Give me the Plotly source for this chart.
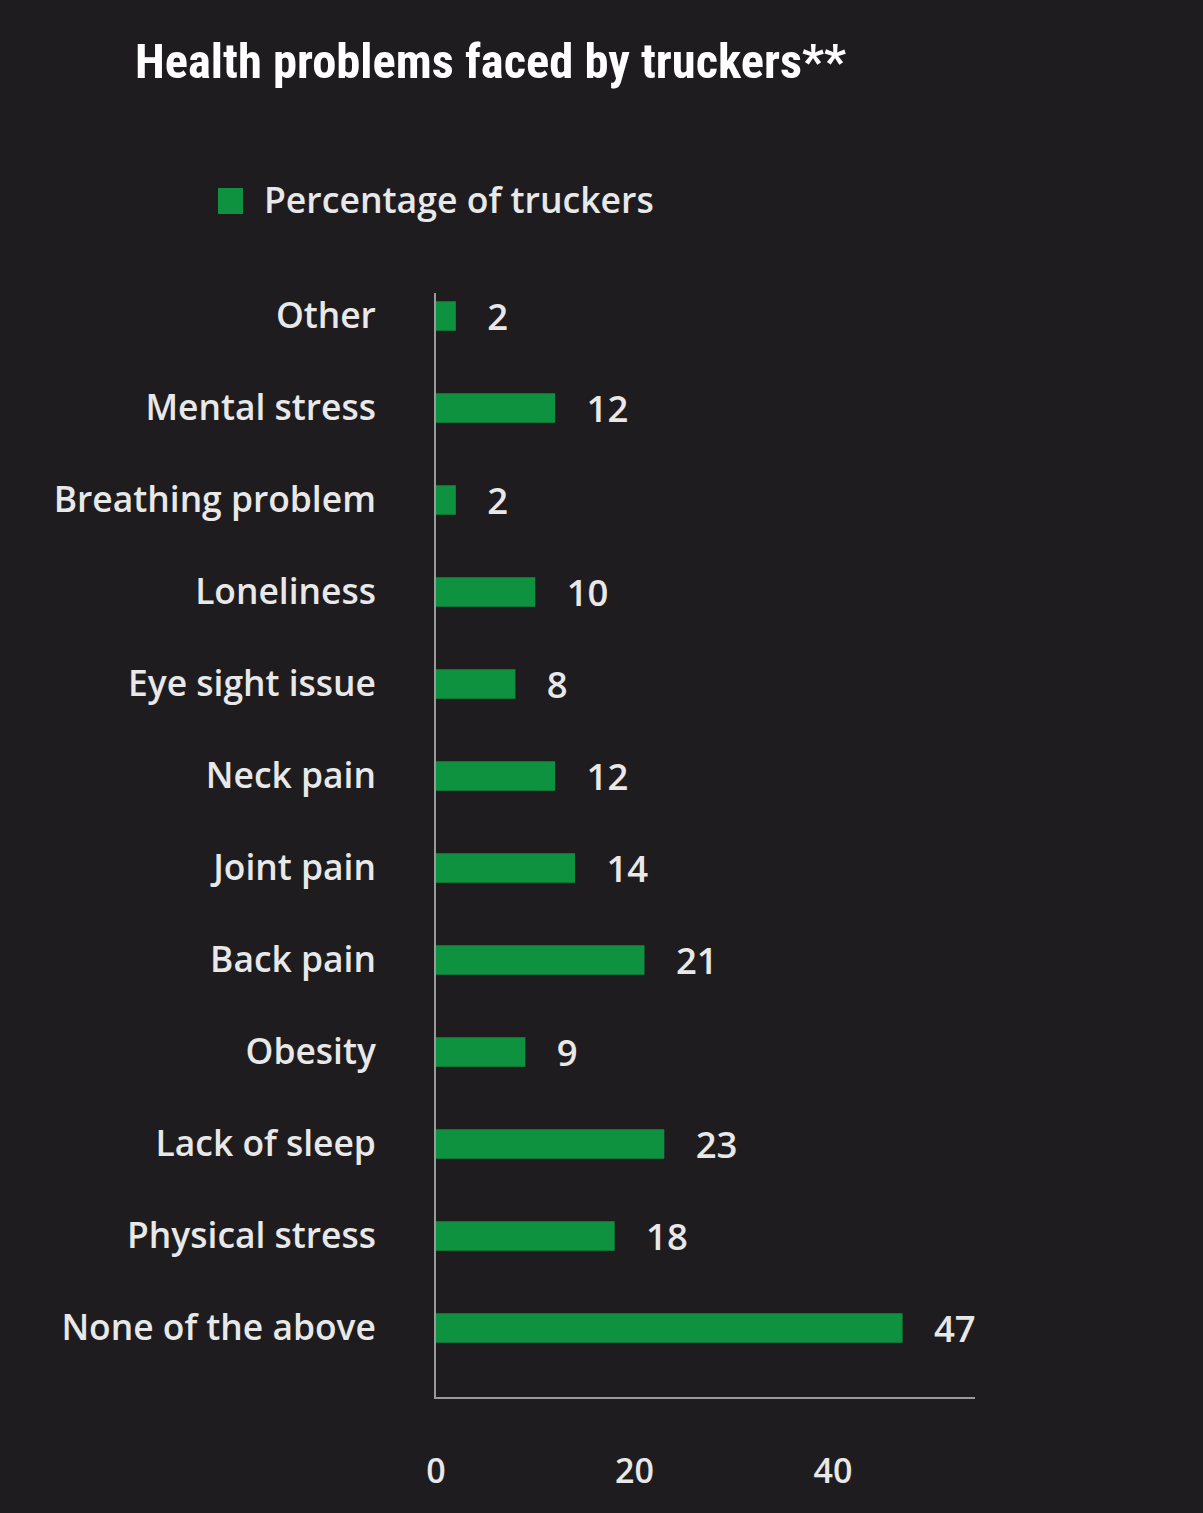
import plotly.graph_objects as go

categories = ["Other", "Mental stress", "Breathing problem", "Loneliness", "Eye sight issue",
              "Neck pain", "Joint pain", "Back pain", "Obesity", "Lack of sleep",
              "Physical stress", "None of the above"]
values = [2, 12, 2, 10, 8, 12, 14, 21, 9, 23, 18, 47]
series_name = "Percentage of truckers"
title_text = "Health problems faced by truckers**"
x_ticks = [0, 20, 40]

BG = "#1e1c1f"
GREEN = "#0e9240"
TXT = "#e8e8e8"
FONT = "Open Sans, Noto Sans, sans-serif"

fig = go.Figure()
fig.add_trace(go.Bar(
    y=categories, x=values, orientation="h",
    marker=dict(color=GREEN, line=dict(width=0)),
    width=0.32,
    text=values, texttemplate="   %{x}", textposition="outside",
    constraintext="none",
    textfont=dict(family=FONT, size=36.5, color=TXT, weight=600),
    cliponaxis=False, name=series_name, showlegend=False,
))

fig.update_layout(
    width=1203, height=1513,
    paper_bgcolor=BG, plot_bgcolor=BG,
    margin=dict(l=436, r=228, t=293, b=116, pad=0),
    font=dict(family=FONT, color=TXT),
    xaxis=dict(range=[0, 54.3], tickvals=x_ticks, showgrid=False, zeroline=False,
               showline=True, linecolor="#9a9a9a", linewidth=2, ticks="",
               tickfont=dict(size=34, color=TXT, weight=600), ticklabelstandoff=43, fixedrange=True),
    yaxis=dict(categoryorder="array", categoryarray=categories,
               autorange=False, range=[len(categories) - 0.25, -0.25],
               showgrid=False, zeroline=False, showline=True,
               linecolor="#9a9a9a", linewidth=2, ticks="",
               tickfont=dict(size=35.4, color=TXT, weight=600), ticklabelstandoff=51),
    title=None,
)

pw = 1203 - 436 - 228
ph = 1513 - 293 - 116

fig.add_annotation(text=f"<b>{title_text}</b>", xref="paper", yref="paper",
                   x=(133 - 436) / pw, y=1 + (293 - 62) / ph,
                   xanchor="left", yanchor="middle", showarrow=False,
                   font=dict(family="Roboto Condensed, Liberation Sans Narrow, DejaVu Sans Condensed, Roboto",
                             size=48.5, color="#ffffff"))

# legend (manual)
fig.add_shape(type="rect", xref="paper", yref="paper",
              x0=(218 - 436) / pw, x1=(243 - 436) / pw,
              y0=1 + (293 - 214) / ph, y1=1 + (293 - 188) / ph,
              fillcolor=GREEN, line=dict(width=0))
fig.add_annotation(text=series_name, xref="paper", yref="paper",
                   x=(262 - 436) / pw, y=1 + (293 - 199) / ph,
                   xanchor="left", yanchor="middle", showarrow=False,
                   font=dict(family=FONT, size=35.6, color=TXT, weight=600))

fig.write_html("out.html", config=dict(displayModeBar=False))
